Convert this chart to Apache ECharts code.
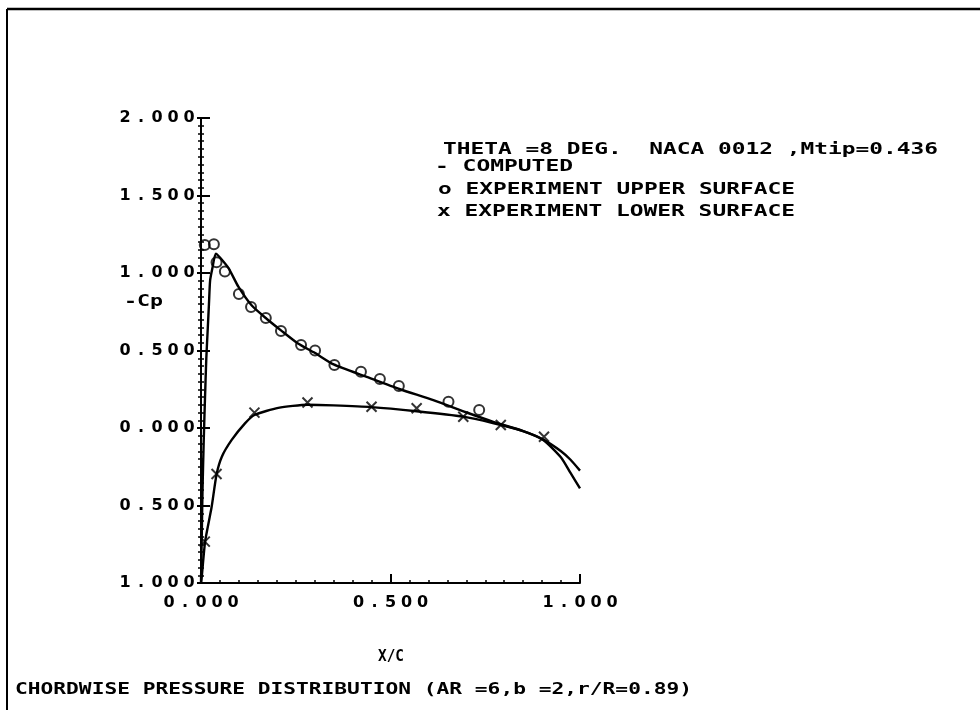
<!DOCTYPE html>
<html>
<head>
<meta charset="utf-8">
<script src="https://cdn.jsdelivr.net/npm/echarts@6/dist/echarts.min.js"></script>
<style>
  html, body { margin: 0; padding: 0; background: #fff; }
  #chart { width: 980px; height: 710px; }
</style>
</head>
<body>
<div id="chart"></div>
<script>
// Axis ranges and tick steps
const xRange = [0, 1];
const yRange = [-1, 2];
const majorStep = 0.5;

// Computed -Cp along the chord (x/c, -Cp)
const computedUpper = [
  [0.000, -1.00], [0.002, -0.70], [0.004, -0.40], [0.007, -0.10], [0.010, 0.15],
  [0.014, 0.45], [0.018, 0.65], [0.021, 0.80], [0.024, 0.95], [0.030, 1.03],
  [0.039, 1.125], [0.050, 1.10], [0.073, 1.03], [0.099, 0.91], [0.134, 0.79],
  [0.173, 0.705], [0.211, 0.63], [0.256, 0.545], [0.300, 0.485], [0.350, 0.41],
  [0.437, 0.33], [0.525, 0.25], [0.613, 0.18], [0.701, 0.10], [0.771, 0.04],
  [0.850, -0.02], [0.903, -0.075], [0.950, -0.15], [0.975, -0.205], [1.000, -0.275]
];
const computedLower = [
  [0.000, -1.00], [0.002, -0.96], [0.011, -0.73], [0.028, -0.51], [0.041, -0.30],
  [0.055, -0.185], [0.081, -0.077], [0.116, 0.03], [0.141, 0.084], [0.204, 0.13],
  [0.281, 0.15], [0.350, 0.146], [0.450, 0.135], [0.569, 0.108], [0.692, 0.073],
  [0.770, 0.032], [0.850, -0.02], [0.903, -0.077], [0.950, -0.19], [0.975, -0.29],
  [1.000, -0.39]
];

// Measured -Cp
const upperSurface = [
  [0.010, 1.18], [0.034, 1.185], [0.041, 1.07], [0.063, 1.01], [0.100, 0.865],
  [0.132, 0.78], [0.171, 0.71], [0.211, 0.626], [0.264, 0.535], [0.301, 0.50],
  [0.352, 0.406], [0.422, 0.363], [0.472, 0.316], [0.522, 0.271], [0.653, 0.17],
  [0.734, 0.116]
];
const lowerSurface = [
  [0.010, -0.733], [0.041, -0.297], [0.141, 0.099], [0.281, 0.165], [0.450, 0.137],
  [0.569, 0.127], [0.692, 0.073], [0.791, 0.019], [0.905, -0.056]
];

// Text
const headerLines = [
  'THETA =8 DEG.  NACA 0012 ,Mtip=0.436',
  '- COMPUTED',
  'o EXPERIMENT UPPER SURFACE',
  'x EXPERIMENT LOWER SURFACE'
];
const yName = '-Cp';
const xName = 'X/C';
const caption = 'CHORDWISE PRESSURE DISTRIBUTION (AR =6,b =2,r/R=0.89)';

const FONT = 'DejaVu Sans Mono';
const INK = '#000';

// Plotter-style tick labels: each character gets a fixed cell width
function spacedLabel(v) {
  return Math.abs(v).toFixed(3).split('').map(c => '{c|' + c + '}').join('');
}
const labelRich = {
  c: { width: 16, align: 'center', fontFamily: 'DejaVu Sans', fontWeight: 'bold', fontSize: 16, color: INK }
};

// Stretch a text horizontally so it spans a given width
const measureCtx = document.createElement('canvas').getContext('2d');
function wideText(str, left, right, cy, size) {
  const font = 'bold ' + size + 'px "' + FONT + '"';
  measureCtx.font = font;
  const w = measureCtx.measureText(str).width;
  return {
    type: 'text',
    x: left, y: cy,
    scaleX: (right - left) / w,
    style: { text: str, font: font, fill: INK, textVerticalAlign: 'middle', textAlign: 'left' },
    silent: true
  };
}

const chart = echarts.init(document.getElementById('chart'), null, { renderer: 'canvas' });

const axisLineStyle = { color: INK, width: 2 };

chart.setOption({
  animation: false,
  backgroundColor: '#fff',
  grid: { left: 201, right: 400, top: 118, bottom: 127, containLabel: false },
  xAxis: {
    type: 'value', min: xRange[0], max: xRange[1], interval: majorStep,
    axisLine: { onZero: false, lineStyle: axisLineStyle },
    axisTick: { inside: true, length: 9, lineStyle: { color: INK, width: 2 } },
    minorTick: { show: true, splitNumber: 10, length: 3, lineStyle: { color: INK, width: 1.5 } },
    splitLine: { show: false },
    axisLabel: { margin: 12, formatter: spacedLabel, rich: labelRich }
  },
  yAxis: [
    {
      type: 'value', min: yRange[0], max: yRange[1], interval: majorStep,
      axisLine: { onZero: false, lineStyle: axisLineStyle },
      axisTick: { inside: true, length: 9, lineStyle: { color: INK, width: 2 } },
      minorTick: { show: true, splitNumber: 10, length: 3, lineStyle: { color: INK, width: 1.5 } },
      splitLine: { show: false },
      axisLabel: { margin: 4, formatter: spacedLabel, rich: labelRich }
    },
    {
      type: 'value', position: 'left', offset: 0,
      min: yRange[0], max: yRange[1], interval: majorStep,
      axisLine: { show: false, onZero: false },
      axisTick: { inside: false, length: 4, lineStyle: { color: INK, width: 2 } },
      minorTick: { show: true, splitNumber: 10, length: 3, lineStyle: { color: INK, width: 1.5 } },
      splitLine: { show: false },
      axisLabel: { show: false }
    }
  ],
  series: [
    {
      name: 'COMPUTED', type: 'line', data: computedUpper, showSymbol: false,
      smooth: 0.2,
      lineStyle: { color: INK, width: 2.4 }
    },
    {
      name: 'COMPUTED', type: 'line', data: computedLower, showSymbol: false,
      smooth: 0.2,
      lineStyle: { color: INK, width: 2.4 }
    },
    {
      name: 'EXPERIMENT UPPER SURFACE', type: 'scatter', data: upperSurface,
      symbol: 'circle', symbolSize: 10,
      itemStyle: { color: 'rgba(0,0,0,0)', borderColor: INK, borderWidth: 2 }
    },
    {
      name: 'EXPERIMENT LOWER SURFACE', type: 'scatter', data: lowerSurface,
      symbol: 'path://M0,0L10,10M10,0L0,10', symbolSize: 10,
      itemStyle: { color: 'rgba(0,0,0,0)', borderColor: INK, borderWidth: 2 }
    }
  ],
  graphic: [
    // frame
    { type: 'line', shape: { x1: 7, y1: 9, x2: 980, y2: 9 }, style: { stroke: INK, lineWidth: 2.5 }, silent: true },
    { type: 'line', shape: { x1: 7, y1: 9, x2: 7, y2: 710 }, style: { stroke: INK, lineWidth: 2 }, silent: true },
    wideText(headerLines[0], 443, 938, 150, 15),
    wideText(headerLines[1], 435, 573, 167, 15),
    wideText(headerLines[2], 438, 795, 190, 15),
    wideText(headerLines[3], 437, 795, 212, 15),
    wideText(yName, 124, 163, 302, 16),
    wideText(xName, 378, 404, 657, 15),
    wideText(caption, 15, 692, 690, 15)
  ]
});
</script>
</body>
</html>
